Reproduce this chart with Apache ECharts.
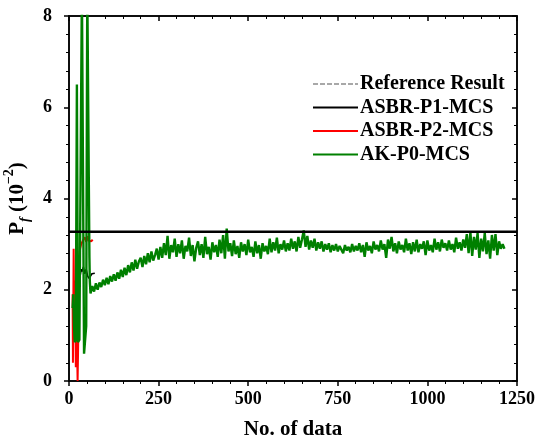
<!DOCTYPE html>
<html>
<head>
<meta charset="utf-8">
<title>Pf convergence</title>
<script src="https://cdn.jsdelivr.net/npm/echarts@6/dist/echarts.min.js"></script>
<style>
  html, body { margin: 0; padding: 0; background: #fff; }
  #chart { width: 538px; height: 443px; }
</style>
</head>
<body>
<div id="chart"></div>
<script>
// 参考值 (10^-2)
var refValue = 3.27;
var refRange = [0, 1250];

// ASBR-P1-MCS  [No. of data, Pf]
var asbrP1 = [
  [28, 2.05], [31, 2.3], [34, 2.45], [37, 2.4], [40, 2.5], [44, 2.35], [48, 2.45],
  [52, 2.3], [56, 2.25], [60, 2.3], [64, 2.35], [68, 2.32], [72, 2.36]
];

// ASBR-P2-MCS
var asbrP2 = [
  [10, 1.9], [11, 0.4], [13, 2.9], [15, 0.9], [17, 2.2], [19, 0.3], [22, 0.9], [24, 0.0],
  [26, 1.0], [28, 2.6], [31, 2.9], [34, 3.0], [37, 3.05], [40, 3.1], [44, 3.15], [48, 3.05],
  [52, 3.18], [55, 3.08], [58, 3.12], [62, 3.06], [66, 3.1]
];

// AK-P0-MCS 前段（振荡部分）
var akEarly = [
  [10, 1.6], [12, 1.9], [14, 1.2], [16, 0.85], [19, 0.9], [22, 6.5], [25, 0.85], [29, 0.9],
  [33, 0.9], [36, 8.6], [39, 8.6], [42, 0.6], [44, 0.8], [48, 1.2], [51, 8.6], [54, 8.6],
  [57, 2.7], [58, 2.2]
];

// AK-P0-MCS 后段，从 60 开始每 5 个数据一个值
var akTailStart = 60;
var akTailStep = 5;
var akTail = [
  1.92, 2.08, 1.96, 2.14, 2.00, 2.16, 2.06, 2.22, 2.10, 2.26,
  2.12, 2.30, 2.18, 2.34, 2.20, 2.38, 2.24, 2.44, 2.28, 2.48,
  2.32, 2.54, 2.38, 2.60, 2.42, 2.66, 2.46, 2.62, 2.70, 2.50,
  2.74, 2.56, 2.80, 2.60, 2.84, 2.64, 2.76, 2.90, 2.66, 2.94,
  2.70, 3.02, 2.76, 3.18, 2.68, 2.98, 2.82, 3.12, 2.72, 3.00,
  2.80, 3.08, 2.68, 2.96, 2.84, 3.14, 2.74, 2.98, 2.62, 2.92,
  3.06, 2.76, 3.00, 2.70, 3.16, 2.78, 2.94, 2.66, 3.04, 2.82,
  2.98, 2.72, 3.10, 2.80, 3.20, 2.68, 3.34, 2.84, 3.02, 2.74,
  3.08, 2.78, 2.96, 2.70, 3.04, 2.84, 3.00, 2.76, 3.10, 2.82,
  2.94, 2.72, 3.06, 2.80, 2.98, 2.68, 3.02, 2.84, 2.96, 2.78,
  3.12, 2.82, 3.04, 2.86, 3.14, 2.80, 3.00, 2.88, 3.08, 2.84,
  3.02, 2.86, 3.12, 2.90, 3.06, 2.84, 3.16, 2.92, 3.10, 3.30,
  2.94, 3.18, 2.88, 3.08, 2.92, 3.12, 2.86, 3.04, 2.90, 3.06,
  2.84, 3.00, 2.88, 3.02, 2.82, 2.98, 2.86, 3.00, 2.84, 2.96,
  2.88, 2.80, 2.98, 2.86, 2.94, 2.82, 3.00, 2.84, 2.96, 2.86,
  3.02, 2.82, 2.98, 2.72, 3.04, 2.86, 2.96, 2.80, 3.06, 2.88,
  2.98, 2.84, 3.08, 2.88, 3.00, 2.70, 3.10, 2.90, 3.16, 2.84,
  3.02, 2.80, 3.06, 2.88, 2.98, 2.82, 3.12, 2.86, 3.02, 2.78,
  3.04, 2.84, 3.10, 2.82, 3.00, 2.90, 3.06, 2.76, 3.08, 2.86,
  2.98, 2.82, 3.12, 2.88, 3.04, 2.84, 3.10, 2.92, 3.02, 2.86,
  3.08, 2.88, 3.00, 2.82, 3.14, 2.90, 3.04, 2.86, 3.10, 2.92,
  3.22, 2.80, 3.26, 2.74, 3.16, 2.88, 3.24, 2.70, 3.12, 2.84,
  3.24, 2.78, 3.08, 2.68, 3.20, 2.86, 3.22, 2.76, 3.06, 2.90,
  3.00, 2.90
];

var xTicks = [0, 250, 500, 750, 1000, 1250];
var yTicks = [0, 2, 4, 6, 8];

var font = '"Liberation Serif", "Times New Roman", serif';

var akData = akEarly.slice();
akTail.forEach(function (v, i) {
  akData.push([akTailStart + i * akTailStep, v]);
});
var refData = [[refRange[0], refValue], [refRange[1], refValue]];

var myChart = echarts.init(document.getElementById('chart'));

var axisLineStyle = { color: '#000', width: 1.5 };
var minorTickStyle = { color: '#000', width: 1 };

var option = {
  animation: false,
  backgroundColor: '#fff',
  textStyle: { fontFamily: font },
  grid: {
    left: 69, right: 21, top: 16, bottom: 62,
    outerBounds: { left: -200, right: -200, top: -200, bottom: -200 },
    show: true, borderColor: '#000', borderWidth: 1.5, backgroundColor: 'transparent'
  },
  legend: {
    orient: 'vertical',
    left: 307,
    top: 69,
    itemWidth: 45,
    itemHeight: 10,
    itemGap: 3.5,
    itemStyle: { opacity: 0 },
    textStyle: { fontFamily: font, fontWeight: 'bold', fontSize: 20, color: '#000', padding: [0, 0, 0, -3] },
    data: [
      { name: 'Reference Result', lineStyle: { color: '#8c8c8c', type: [5, 2], width: 1.5 } },
      { name: 'ASBR-P1-MCS', lineStyle: { color: '#000', width: 2 } },
      { name: 'ASBR-P2-MCS', lineStyle: { color: '#ff0000', width: 2 } },
      { name: 'AK-P0-MCS', lineStyle: { color: '#008000', width: 2 } }
    ]
  },
  xAxis: [
    {
      type: 'value',
      position: 'bottom',
      min: xTicks[0],
      max: xTicks[xTicks.length - 1],
      interval: 250,
      name: 'No. of data',
      nameLocation: 'middle',
      nameGap: 38,
      nameTextStyle: { fontFamily: font, fontWeight: 'bold', fontSize: 21, color: '#000' },
      axisLine: { show: true, onZero: false, lineStyle: axisLineStyle },
      axisTick: { show: true, inside: false, length: 5, lineStyle: axisLineStyle },
      minorTick: { show: true, splitNumber: 5, length: 3, lineStyle: minorTickStyle },
      axisLabel: {
        fontFamily: font, fontWeight: 'bold', fontSize: 18, color: '#000', margin: 9,
        formatter: function (v) { return String(v); }
      },
      splitLine: { show: false }
    },
    {
      type: 'value',
      position: 'top',
      min: xTicks[0],
      max: xTicks[xTicks.length - 1],
      interval: 250,
      axisLine: { show: true, onZero: false, lineStyle: axisLineStyle },
      axisTick: { show: true, inside: true, length: 5, lineStyle: axisLineStyle },
      minorTick: { show: true, splitNumber: 5, length: 3, lineStyle: minorTickStyle },
      axisLabel: { show: false },
      splitLine: { show: false }
    }
  ],
  yAxis: [
    {
      type: 'value',
      position: 'left',
      min: yTicks[0],
      max: yTicks[yTicks.length - 1],
      interval: 2,
      name: '{p|P}{f|f}{n| (10}{s|−2}{n|)}',
      nameLocation: 'middle',
      nameGap: 34,
      nameRotate: 90,
      nameTextStyle: {
        color: '#000',
        rich: {
          p: { fontFamily: font, fontWeight: 'bold', fontSize: 21, color: '#000', lineHeight: 26, verticalAlign: 'bottom' },
          f: { fontFamily: font, fontWeight: 'bold', fontStyle: 'italic', fontSize: 14, color: '#000', lineHeight: 26, verticalAlign: 'bottom', padding: [0, 0, -4, 0] },
          n: { fontFamily: font, fontWeight: 'bold', fontSize: 21, color: '#000', lineHeight: 26, verticalAlign: 'bottom' },
          s: { fontFamily: font, fontWeight: 'bold', fontSize: 14, color: '#000', lineHeight: 26, verticalAlign: 'top' }
        }
      },
      axisLine: { show: true, onZero: false, lineStyle: axisLineStyle },
      axisTick: { show: true, inside: false, length: 5, lineStyle: axisLineStyle },
      minorTick: { show: true, splitNumber: 5, length: 3, lineStyle: minorTickStyle },
      axisLabel: { fontFamily: font, fontWeight: 'bold', fontSize: 18, color: '#000', margin: 17 },
      splitLine: { show: false }
    },
    {
      type: 'value',
      position: 'right',
      min: yTicks[0],
      max: yTicks[yTicks.length - 1],
      interval: 2,
      axisLine: { show: true, onZero: false, lineStyle: axisLineStyle },
      axisTick: { show: true, inside: true, length: 5, lineStyle: axisLineStyle },
      minorTick: { show: true, splitNumber: 5, length: 3, lineStyle: minorTickStyle },
      axisLabel: { show: false },
      splitLine: { show: false }
    }
  ],
  series: [
    {
      // 参考线挂在上/右坐标轴上，刻度范围与主坐标轴相同
      name: 'Reference Result',
      type: 'line',
      xAxisIndex: 1,
      yAxisIndex: 1,
      data: refData,
      symbol: 'none',
      lineStyle: { color: '#000', width: 2.5 },
      itemStyle: { color: '#8c8c8c' },
      z: 5
    },
    {
      name: 'ASBR-P1-MCS',
      type: 'line',
      data: asbrP1,
      symbol: 'none',
      lineStyle: { color: '#000', width: 1.6 },
      itemStyle: { color: '#000' }
    },
    {
      name: 'ASBR-P2-MCS',
      type: 'line',
      data: asbrP2,
      symbol: 'none',
      lineStyle: { color: '#ff0000', width: 2 },
      itemStyle: { color: '#ff0000' }
    },
    {
      name: 'AK-P0-MCS',
      type: 'line',
      data: akData,
      symbol: 'none',
      clip: true,
      lineStyle: { color: '#008000', width: 2.4 },
      itemStyle: { color: '#008000' }
    }
  ]
};

myChart.setOption(option);
</script>
</body>
</html>
